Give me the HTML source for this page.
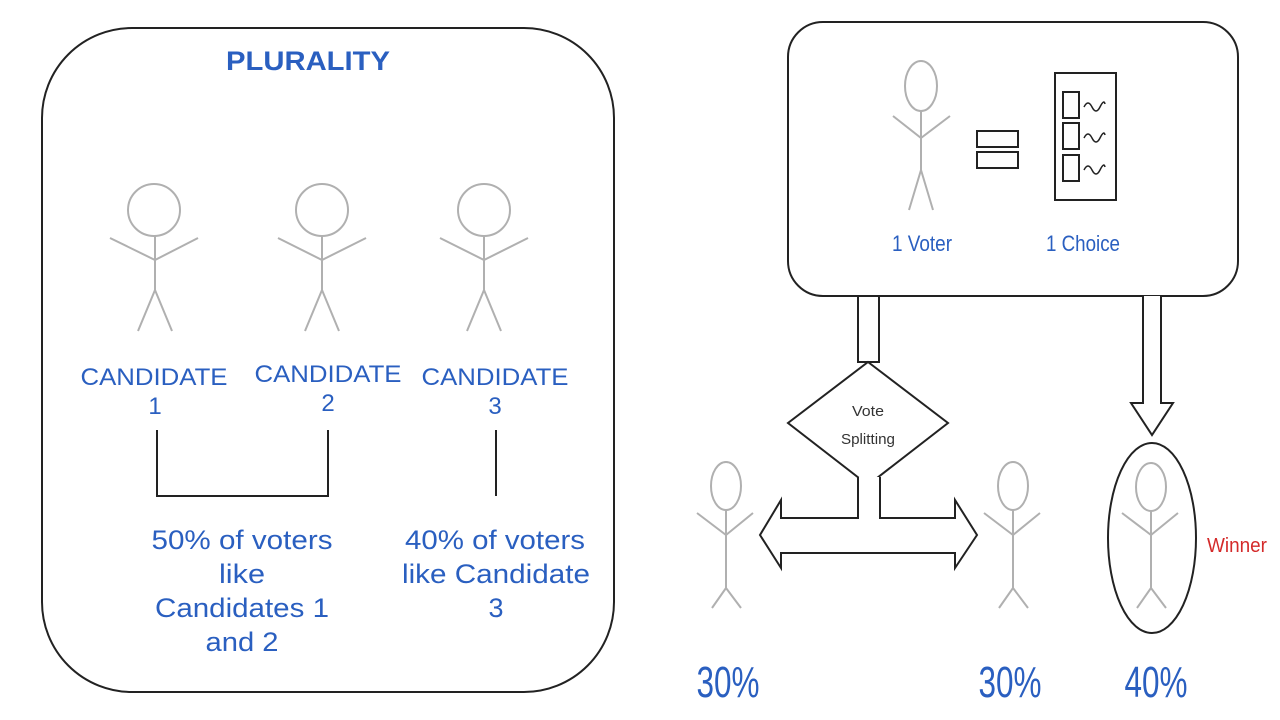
<!DOCTYPE html>
<html><head><meta charset="utf-8"><style>
html,body{margin:0;padding:0;background:#fff;}
svg{display:block;font-family:"Liberation Sans",sans-serif;}
.fig{stroke:#b0b0b0;stroke-width:2;fill:none;}
.blk{stroke:#222;stroke-width:2;fill:#fff;}
.blue{fill:#2a5fc0;}
</style></head><body>
<svg width="1280" height="720" viewBox="0 0 1280 720">
<g>
<rect x="42" y="28" width="572" height="664" rx="90" fill="none" stroke="#222" stroke-width="2"/>
<text x="308" y="70" text-anchor="middle" class="blue" font-size="27" font-weight="bold" textLength="164" lengthAdjust="spacingAndGlyphs">PLURALITY</text>
<g class="fig"><circle cx="154" cy="210" r="26"/><path d="M110 238L155 260L198 238M155 236V290L138 331M155 290L172 331"/></g>
<g class="fig"><circle cx="322" cy="210" r="26"/><path d="M278 238L322 260L366 238M322 236V290L305 331M322 290L339 331"/></g>
<g class="fig"><circle cx="484" cy="210" r="26"/><path d="M440 238L484 260L528 238M484 236V290L467 331M484 290L501 331"/></g>
<g class="blue" font-size="24" text-anchor="middle">
<text x="154" y="385" textLength="147" lengthAdjust="spacingAndGlyphs">CANDIDATE</text><text x="155" y="414">1</text>
<text x="328" y="382" textLength="147" lengthAdjust="spacingAndGlyphs">CANDIDATE</text><text x="328" y="411">2</text>
<text x="495" y="385" textLength="147" lengthAdjust="spacingAndGlyphs">CANDIDATE</text><text x="495" y="414">3</text>
</g>
<path d="M157 430V496H328V430M496 430V496" fill="none" stroke="#222" stroke-width="2"/>
<g class="blue" font-size="27" text-anchor="middle">
<text x="242" y="549" textLength="181" lengthAdjust="spacingAndGlyphs">50% of voters</text><text x="242" y="583" textLength="46" lengthAdjust="spacingAndGlyphs">like</text><text x="242" y="617" textLength="174" lengthAdjust="spacingAndGlyphs">Candidates 1</text><text x="242" y="651" textLength="73" lengthAdjust="spacingAndGlyphs">and 2</text>
</g>
<g class="blue" font-size="27" text-anchor="middle">
<text x="495" y="549" textLength="180" lengthAdjust="spacingAndGlyphs">40% of voters</text><text x="496" y="583" textLength="188" lengthAdjust="spacingAndGlyphs">like Candidate</text><text x="496" y="617">3</text>
</g>
</g>
<g>
<rect x="788" y="22" width="450" height="274" rx="35" fill="#fff" stroke="#222" stroke-width="2"/>
<g class="fig"><ellipse cx="921" cy="86" rx="16" ry="25"/><path d="M893 116L921 138L950 116M921 111V170L909 210M921 170L933 210"/></g>
<rect x="977" y="131" width="41" height="16" class="blk"/><rect x="977" y="152" width="41" height="16" class="blk"/>
<g>
<rect x="1055" y="73" width="61" height="127" class="blk"/>
<rect x="1063" y="92" width="16" height="26" class="blk"/><rect x="1063" y="123" width="16" height="26" class="blk"/><rect x="1063" y="155" width="16" height="26" class="blk"/>
<path d="M1084 107q4-8 8 0t8 0t5-3M1084 138q4-8 8 0t8 0t5-3M1084 170q4-8 8 0t8 0t5-3" fill="none" stroke="#222" stroke-width="1.5"/>
</g>
<text x="922" y="251" class="blue" font-size="22" text-anchor="middle" textLength="60" lengthAdjust="spacingAndGlyphs">1 Voter</text>
<text x="1083" y="251" class="blue" font-size="22" text-anchor="middle" textLength="74" lengthAdjust="spacingAndGlyphs">1 Choice</text>
</g>
<rect x="858" y="296" width="21" height="66" class="blk"/>
<path d="M868 362L948 423L868 485L788 423Z" class="blk"/>
<text x="868" y="416" font-size="15" text-anchor="middle" fill="#333" textLength="32" lengthAdjust="spacingAndGlyphs">Vote</text>
<text x="868" y="444" font-size="15" text-anchor="middle" fill="#333" textLength="54" lengthAdjust="spacingAndGlyphs">Splitting</text>
<path d="M858 477V518H781V500L760 535L781 568V553H955V568L977 535L955 500V518H880V477" class="blk"/>
<path d="M1143 296V403H1131L1152 435L1173 403H1161V296" class="blk"/>
<g class="fig"><ellipse cx="726" cy="486" rx="15" ry="24"/><path d="M697 513L726 535L753 513M726 510V588L712 608M726 588L741 608"/></g>
<g class="fig"><ellipse cx="1013" cy="486" rx="15" ry="24"/><path d="M984 513L1013 535L1040 513M1013 510V588L999 608M1013 588L1028 608"/></g>
<ellipse cx="1152" cy="538" rx="44" ry="95" fill="none" stroke="#222" stroke-width="2"/>
<g class="fig"><ellipse cx="1151" cy="487" rx="15" ry="24"/><path d="M1122 513L1151 535L1178 513M1151 511V588L1137 608M1151 588L1166 608"/></g>
<text x="1237" y="552" font-size="20" fill="#d42a2a" text-anchor="middle" textLength="60" lengthAdjust="spacingAndGlyphs">Winner</text>
<g class="blue" font-size="44" text-anchor="middle">
<text x="728" y="697" textLength="63" lengthAdjust="spacingAndGlyphs">30%</text>
<text x="1010" y="697" textLength="63" lengthAdjust="spacingAndGlyphs">30%</text>
<text x="1156" y="697" textLength="63" lengthAdjust="spacingAndGlyphs">40%</text>
</g>
</svg>
</body></html>
